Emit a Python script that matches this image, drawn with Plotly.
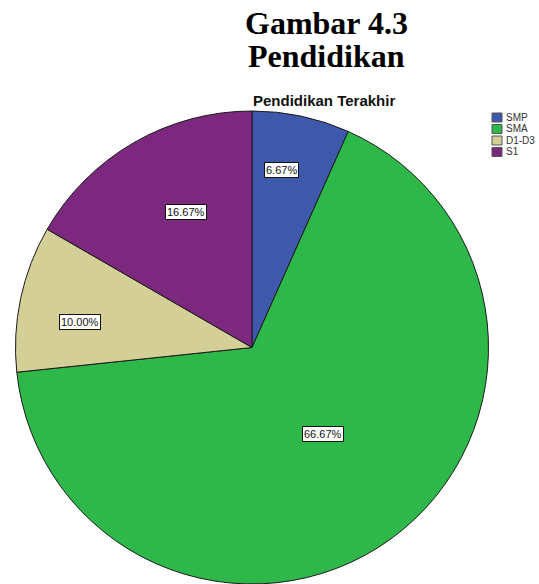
import math
import plotly.graph_objects as go

W, H = 539, 584

categories = ["SMP", "SMA", "D1-D3", "S1"]
values = [6.67, 66.67, 10.00, 16.67]
label_texts = ["6.67%", "66.67%", "10.00%", "16.67%"]
colors = ["#3E58AC", "#2EB849", "#D4CE97", "#7C287F"]
# label placement style: radial fraction and angular nudge (degrees)
label_radius = [0.76, 0.473, 0.735, 0.637]
label_shift = [-2.4, -3.4, -3.6, 4.0]

# pie placement (pixels)
left, right, top, bottom = 14, 490, 111, 584
dom_x = [left / W, right / W]
dom_y = [1 - bottom / H, 1 - top / H]
cx = (left + right) / 2
cy = (top + bottom) / 2
R = min(right - left, bottom - top) / 2

fig = go.Figure(go.Pie(
    labels=categories,
    values=values,
    sort=False,
    direction="clockwise",
    rotation=0,
    textinfo="none",
    hoverinfo="label+percent",
    marker=dict(colors=colors, line=dict(color="#1a1a1a", width=1)),
    domain=dict(x=dom_x, y=dom_y),
    showlegend=False,
))

annotations = []
total = sum(values)
cum = 0.0
for i, v in enumerate(values):
    mid = (cum + v / 2) / total * 2 * math.pi + math.radians(label_shift[i])
    cum += v
    r = R * label_radius[i]
    px = cx + r * math.sin(mid)
    py = cy - r * math.cos(mid)
    annotations.append(dict(
        x=px / W, y=1 - py / H, xref="paper", yref="paper",
        text=label_texts[i], showarrow=False,
        font=dict(family="Liberation Sans, Arial", size=11, color="#111"),
        bgcolor="white", bordercolor="#111", borderwidth=1, borderpad=1,
        xanchor="center", yanchor="middle",
    ))

# titles
annotations.append(dict(x=326 / W, y=1 - 23 / H, xref="paper", yref="paper",
                        text="<b>Gambar 4.3</b>", showarrow=False,
                        font=dict(family="Liberation Serif, Times New Roman", size=32, color="black"),
                        xanchor="center", yanchor="middle"))
annotations.append(dict(x=326 / W, y=1 - 56 / H, xref="paper", yref="paper",
                        text="<b>Pendidikan</b>", showarrow=False,
                        font=dict(family="Liberation Serif, Times New Roman", size=32, color="black"),
                        xanchor="center", yanchor="middle"))
annotations.append(dict(x=324 / W, y=1 - 100 / H, xref="paper", yref="paper",
                        text="<b>Pendidikan Terakhir</b>", showarrow=False,
                        font=dict(family="Liberation Sans, Arial", size=15, color="#111"),
                        xanchor="center", yanchor="middle"))

# custom legend
shapes = []
leg_x0, leg_y0, sw, step = 492, 113, 10, 11.5
for i, (c, name) in enumerate(zip(colors, categories)):
    y0 = leg_y0 + i * step
    shapes.append(dict(type="rect", xref="paper", yref="paper",
                       x0=leg_x0 / W, x1=(leg_x0 + sw) / W,
                       y0=1 - y0 / H, y1=1 - (y0 + 9) / H,
                       fillcolor=c, line=dict(color="#555", width=1)))
    annotations.append(dict(x=(leg_x0 + sw + 2) / W, y=1 - (y0 + 4.5) / H,
                            xref="paper", yref="paper", text=name, showarrow=False,
                            font=dict(family="Liberation Sans, Arial", size=10, color="#333"),
                            xanchor="left", yanchor="middle"))

fig.update_layout(
    width=W, height=H,
    margin=dict(l=0, r=0, t=0, b=0),
    paper_bgcolor="white", plot_bgcolor="white",
    annotations=annotations, shapes=shapes,
)

fig.write_html(
    "out.html",
    config={"displayModeBar": False},
    post_script="document.body.style.margin='0';document.body.style.overflow='hidden';",
)
